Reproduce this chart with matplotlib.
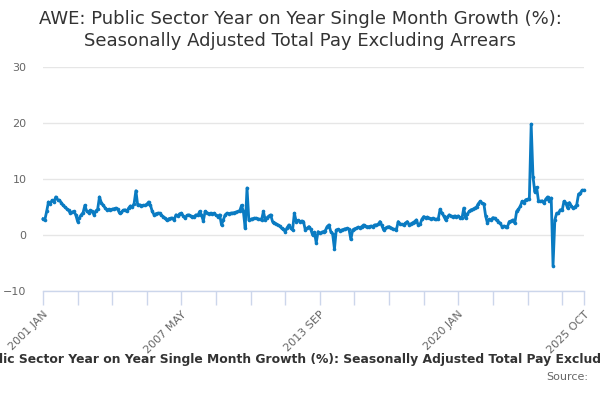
import numpy as np
import matplotlib
matplotlib.use("Agg")
import matplotlib.pyplot as plt

# monthly values, 2001 JAN .. 2025 OCT
y2001 = [2.9, 2.7, 4.2, 5.9, 5.6, 6.2, 5.9, 6.8, 6.3, 6.2, 5.8, 5.3]
y2002 = [5.0, 4.7, 4.4, 3.9, 4.1, 4.2, 3.6, 2.4, 3.1, 3.6, 4.0, 5.3]
y2003 = [4.2, 4.0, 4.4, 4.2, 3.6, 4.3, 4.6, 6.8, 5.8, 5.3, 4.9, 4.5]
y2004 = [4.6, 4.5, 4.6, 4.7, 4.8, 4.6, 3.9, 4.1, 4.4, 4.5, 4.2, 4.8]
y2005 = [5.2, 5.0, 5.6, 7.9, 5.3, 5.4, 5.2, 5.3, 5.3, 5.5, 5.9, 5.3]
y2006 = [4.2, 3.6, 3.8, 3.9, 3.9, 3.5, 3.3, 3.0, 2.6, 2.9, 3.0, 3.0]
y2007 = [2.7, 3.6, 3.4, 3.8, 3.9, 3.4, 3.0, 3.5, 3.6, 3.4, 3.3, 3.3]
y2008 = [3.6, 3.5, 4.2, 3.6, 2.5, 4.2, 4.0, 3.8, 3.9, 3.7, 3.9, 3.5]
y2009 = [3.3, 3.6, 1.8, 2.7, 3.6, 3.9, 3.8, 3.9, 3.9, 4.0, 4.1, 4.2]
y2010 = [4.3, 5.3, 4.2, 1.2, 8.4, 2.7, 2.8, 2.9, 3.0, 3.0, 2.9, 2.8]
y2011 = [2.7, 4.2, 2.7, 3.1, 3.4, 3.6, 2.4, 2.2, 2.0, 1.8, 1.6, 1.2]
y2012 = [1.0, 0.6, 1.3, 1.8, 1.2, 0.9, 3.9, 2.4, 2.6, 2.4, 2.5, 2.4]
y2013 = [0.9, 1.2, 1.5, 1.0, 0.0, 0.5, -1.4, 0.6, 0.3, 0.5, 0.6, 0.8]
y2014 = [1.5, 1.8, 0.6, 0.2, -2.5, 0.9, 1.0, 0.8, 0.9, 1.0, 1.1, 1.2]
y2015 = [1.0, -0.8, 0.9, 1.1, 1.2, 1.4, 1.3, 1.5, 1.8, 1.6, 1.5, 1.5]
y2016 = [1.6, 1.5, 1.8, 1.8, 1.9, 2.4, 1.7, 0.9, 1.2, 1.4, 1.5, 1.3]
y2017 = [1.1, 1.0, 0.9, 2.4, 2.0, 1.9, 1.8, 2.1, 2.4, 1.8, 2.0, 2.2]
y2018 = [2.4, 2.7, 1.8, 1.9, 2.8, 3.3, 3.1, 3.2, 3.0, 2.9, 3.0, 2.8]
y2019 = [2.8, 2.9, 4.6, 3.9, 3.4, 2.7, 3.2, 3.6, 3.4, 3.3, 3.4, 3.3]
y2020 = [3.4, 3.1, 3.0, 4.8, 3.0, 3.8, 4.2, 4.5, 4.6, 4.8, 5.0, 5.6]
y2021 = [6.0, 5.7, 5.6, 3.4, 2.1, 2.8, 2.7, 3.1, 3.0, 2.6, 2.4, 2.1]
y2022 = [1.5, 1.6, 1.5, 1.5, 2.4, 2.5, 2.7, 2.1, 4.2, 4.6, 5.1, 6.0]
y2023 = [5.8, 6.3, 6.4, 6.5, 19.8, 10.4, 7.7, 8.5, 6.1, 6.0, 6.1, 5.7]
y2024 = [6.4, 6.8, 6.0, 6.6, -5.5, 2.7, 3.9, 3.9, 4.5, 4.4, 6.0, 5.7]
y2025 = [4.8, 5.8, 5.2, 4.8, 5.0, 5.4, 7.3, 7.5, 8.0, 8.0]

values = (y2001 + y2002 + y2003 + y2004 + y2005 + y2006 + y2007 + y2008 +
          y2009 + y2010 + y2011 + y2012 + y2013 + y2014 + y2015 + y2016 +
          y2017 + y2018 + y2019 + y2020 + y2021 + y2022 + y2023 + y2024 + y2025)

months = ['JAN', 'FEB', 'MAR', 'APR', 'MAY', 'JUN',
          'JUL', 'AUG', 'SEP', 'OCT', 'NOV', 'DEC']
labels = ['%d %s' % (2001 + i // 12, months[i % 12]) for i in range(len(values))]

title = ('AWE: Public Sector Year on Year Single Month Growth (%):\n'
         'Seasonally Adjusted Total Pay Excluding Arrears')
series_name = ('AWE: Public Sector Year on Year Single Month Growth (%): '
               'Seasonally Adjusted Total Pay Excluding Arrears')

x = np.arange(len(values))
n = len(values) - 1

fig = plt.figure(figsize=(6, 4), dpi=100)
ax = fig.add_axes([43/600., 109/400., 541/600., 224/400.])

ax.plot(x, values, color='#0a7bc2', lw=2, marker='o', ms=2.6,
        markeredgewidth=0, clip_on=False, zorder=3)

ax.set_xlim(0, n)
ax.set_ylim(-10, 30)
ax.set_yticks([-10, 0, 10, 20, 30])
ax.grid(axis='y', color='#e6e6e6', lw=1)
ax.set_axisbelow(True)

for s in ['top', 'right', 'left']:
    ax.spines[s].set_visible(False)
ax.spines['bottom'].set_color('#ccd6eb')
ax.spines['bottom'].set_linewidth(1)

ticks = list(range(0, n, 19)) + [n]
ax.set_xticks(ticks)
ax.set_xticklabels([labels[t] if (t % 76 == 0 or t == n) else '' for t in ticks],
                   rotation=45, ha='right', rotation_mode='anchor',
                   fontsize=8, color='#666666')
ax.tick_params(axis='x', length=10, color='#ccd6eb', width=1, pad=3)
ax.tick_params(axis='y', length=0, labelsize=8, labelcolor='#666666', pad=12)

# title and the (clipped) series caption below the chart
fig.text(0.5, 0.975, title, ha='center', va='top', fontsize=13,
         color='#333333', linespacing=1.25)
fig.text(0.51, 0.1, series_name, ha='center', va='center', fontsize=8.9,
         fontweight='bold', color='#333333')
fig.text(0.98, 0.057, 'Source:', ha='right', va='center', fontsize=8,
         color='#666666')

plt.savefig('out.png', dpi=100)
